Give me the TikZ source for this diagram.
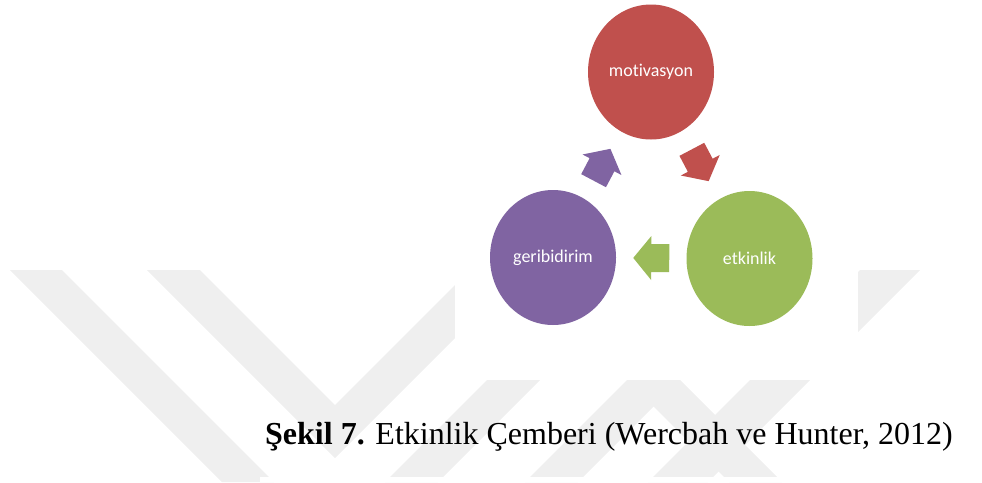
\documentclass[tikz,border=0pt]{standalone}
\usepackage{fontspec}
\setmainfont{Liberation Serif}
\newfontfamily\stagefont[Ligatures=NoCommon]{Carlito}
\usetikzlibrary{shapes.geometric,calc}
\definecolor{cycred}{HTML}{C0504D}
\definecolor{cycgreen}{HTML}{9BBB59}
\definecolor{cycpurple}{HTML}{8064A2}
\definecolor{markgray}{HTML}{EFEFEF}
\begin{document}
\begin{tikzpicture}[x=1pt,y=-1pt,
  stage/.style={ellipse, minimum width=126pt, minimum height=135pt, inner sep=0pt,
    text=white, font=\stagefont\fontsize{18}{20}\selectfont},
  band/.style={fill=markgray},
  pics/cyclearrow/.style={code={
    \path[pic actions] (-18,-14) -- (0,-14) -- (0,-22) -- (18,0) -- (0,22) -- (0,14) -- (-18,14) -- cycle;}}
]
\useasboundingbox (0,0) rectangle (982,482);

% faint striped background mark
\fill[band] (10,270) -- (62,270) -- (274,482) -- (222,482) -- cycle;
\fill[band] (147,270) -- (335,458) -- (523,270) -- (470,270) -- (335,405) -- (200,270) -- cycle;
\fill[band] (597,270) -- (650,270) -- (438,482) -- (385,482) -- cycle;
\fill[band] (517,270) -- (570,270) -- (782,482) -- (729,482) -- cycle;
\fill[band] (860,270) -- (920,270) -- (708,482) -- (648,482) -- cycle;
\fill[band] (737,270) -- (790,270) -- (578,482) -- (525,482) -- cycle;

% white panels laid over the mark
\fill[white] (455,0) rectangle (858,380);
\fill[white] (260,477) rectangle (982,482);

% the three stages of the cycle
\node[stage, fill=cycred]    (moti) at (651,72)    {motivasyon};
\node[stage, fill=cycpurple] (geri) at (553,257.5) {geribidirim};
\node[stage, fill=cycgreen]  (etk)  at (749.5,258.5) {etkinlik};

% block arrows between the stages
\path let \p1=($(etk)-(moti)$), \n1={atan2(\y1,\x1)} in
  ($(moti)!0.5!(etk)$) pic[rotate=\n1, fill=cycred] {cyclearrow};
\path let \p1=($(geri)-(etk)$), \n1={atan2(\y1,\x1)} in
  ($(etk.west)!0.5!(geri.east)$) pic[rotate=\n1, fill=cycgreen] {cyclearrow};
\path let \p1=($(moti)-(geri)$), \n1={atan2(\y1,\x1)} in
  ($(geri)!0.5!(moti)$) pic[rotate=\n1, fill=cycpurple] {cyclearrow};

% caption
\node[anchor=base west, inner sep=0pt, font=\fontsize{32}{38}\selectfont] (caption) at (265,444)
  {\textbf{Şekil 7.} Etkinlik Çemberi (Wercbah ve Hunter, 2012)};
\end{tikzpicture}
\end{document}
